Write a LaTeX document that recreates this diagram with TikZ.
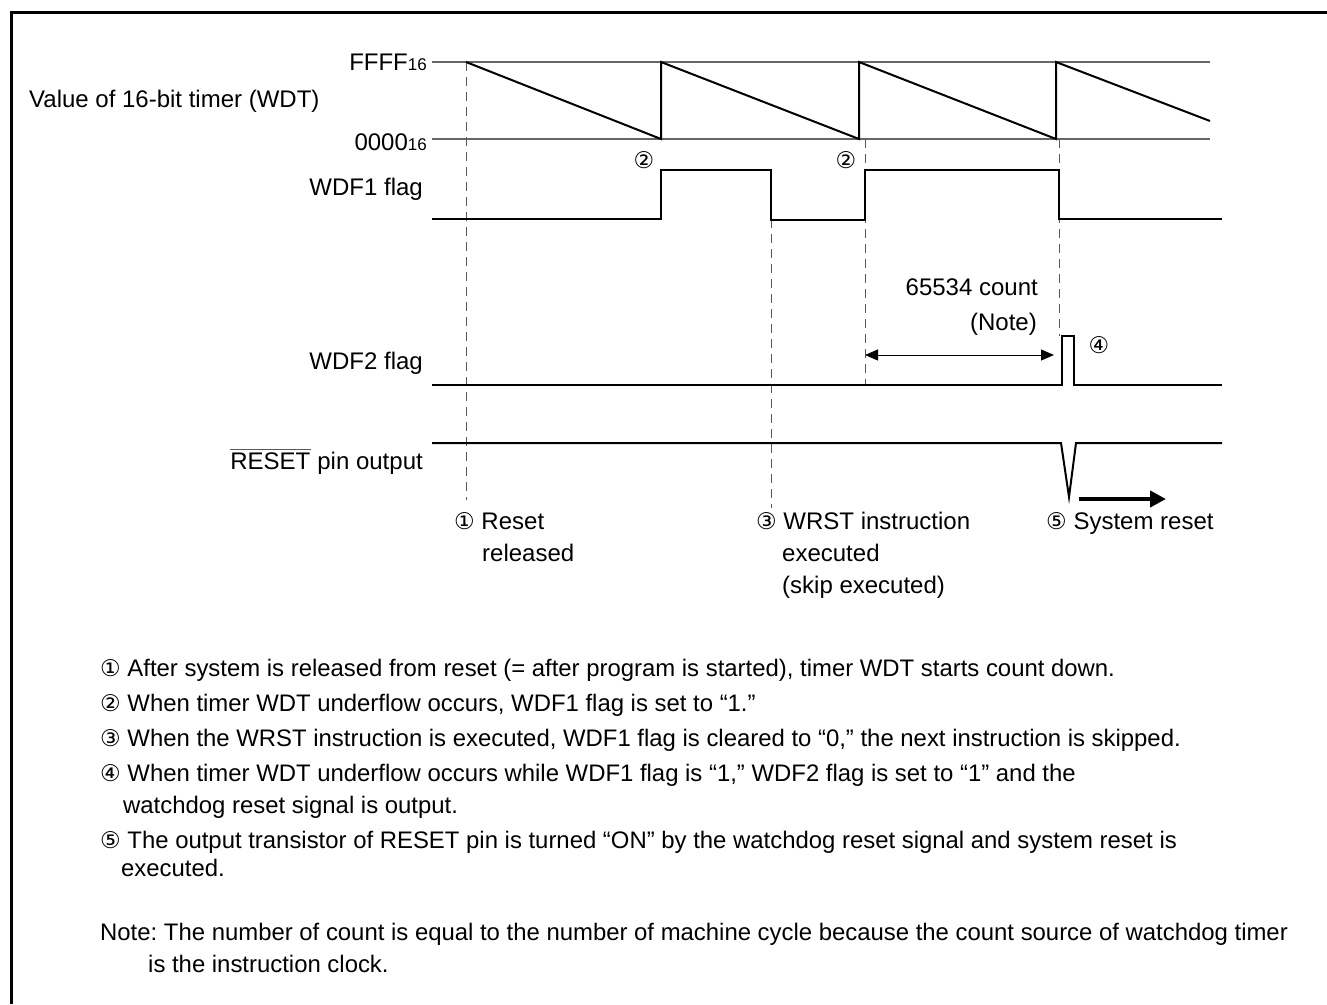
\documentclass[tikz,border=0pt]{standalone}
\usepackage{fontspec}
\setmainfont{Liberation Sans}
\newfontfamily\symf{DejaVu Sans}
\usetikzlibrary{arrows.meta}
\newcommand{\cn}[1]{{\symf\fontsize{23}{26}\selectfont #1}}
\frenchspacing
\begin{document}
\begin{tikzpicture}[x=1pt,y=-1pt,
  lbl/.style={inner sep=0pt,font=\fontsize{24}{28}\selectfont},
  note/.style={inner sep=0pt,anchor=base west,font=\fontsize{23.9}{28}\selectfont},
  wave/.style={line width=2pt,line join=miter},
  guide/.style={gray!80!black,line width=1.2pt},
  vdash/.style={gray!70!black,line width=1pt,dash pattern=on 9pt off 6pt},
  frame/.style={line width=3pt}]
\useasboundingbox (0,0) rectangle (1327,1004);
\fill[white] (0,0) rectangle (1327,1004);
\draw[frame] (11,1004) -- (11,12) -- (1327,12);

% guide lines
\draw[guide] (432,62) -- (1210,62);
\draw[guide] (432,139) -- (1210,139);
\node[lbl,anchor=east] (ffff) at (427,62) {FFFF{\fontsize{17}{20}\selectfont 16}};
\node[lbl,anchor=east] (zero) at (427,142) {0000{\fontsize{17}{20}\selectfont 16}};
\node[lbl,anchor=west] (val) at (29,101) {Value of 16-bit timer (WDT)};

% dashed lines
\draw[vdash] (466,62) -- (466,500);
\draw[vdash] (771,219) -- (771,508);
\draw[vdash] (865,139) -- (865,386);
\draw[vdash] (1059,139) -- (1059,336);

% sawtooth
\draw[wave] (466,62) -- (661,139) -- (661,62) -- (859,139) -- (859,62) -- (1056,139) -- (1056,62) -- (1210,121);

% WDF1
\node[lbl,anchor=base east] (wdf1) at (423,195) {WDF1 flag};
\draw[wave] (432,219) -- (661,219) -- (661,170) -- (771,170) -- (771,220) -- (865,220) -- (865,170) -- (1059,170) -- (1059,219) -- (1222,219);
\node[inner sep=0pt] (c2a) at (644,160) {\cn{②}};
\node[inner sep=0pt] (c2b) at (846,160) {\cn{②}};

% count annotation
\node[lbl,anchor=base east] (cnt) at (1038,295) {65534 count};
\node[lbl,anchor=base east] (nt) at (1037,330) {(Note)};
\coordinate (aL) at (865,355);
\coordinate (aR) at (1054,355);
\draw[line width=1pt,{Triangle[length=13pt,width=11pt]}-{Triangle[length=13pt,width=11pt]}] (aL) -- (aR);

% WDF2
\node[lbl,anchor=base east] (wdf2) at (423,369) {WDF2 flag};
\draw[wave] (432,385) -- (1062,385) -- (1062,336) -- (1074,336) -- (1074,385) -- (1222,385);
\node[inner sep=0pt] (c4) at (1099,345) {\cn{④}};

% RESET
\node[lbl,anchor=base east] (rst) at (423,469) {\ pin output};
\node[lbl,anchor=base east] (rstw) at (rst.base west) {RESET};
\draw[gray!70!black,line width=1pt] ([yshift=3pt]rstw.north west) -- ([yshift=3pt]rstw.north east);
\draw[wave] (432,443) -- (1061,443) -- (1069,497) -- (1076,443) -- (1222,443);
\coordinate (sL) at (1079,499);
\coordinate (sR) at (1166,499);
\draw[line width=4pt,-{Triangle[length=16pt,width=16pt]}] (sL) -- (sR);

% event labels
\node[lbl,anchor=base west] (e1) at (454,529) {\cn{①} Reset};
\node[lbl,anchor=base west] (e1b) at (482,561) {released};
\node[lbl,anchor=base west] (e3) at (756,529) {\cn{③} WRST instruction};
\node[lbl,anchor=base west] (e3b) at (782,561) {executed};
\node[lbl,anchor=base west] (e3c) at (782,593) {(skip executed)};
\node[lbl,anchor=base west] (e5) at (1046,529) {\cn{⑤} System reset};

% notes
\node[note] (n1) at (100,676) {\cn{①} After system is released from reset (= after program is started), timer WDT starts count down.};
\node[note] (n2) at (100,711) {\cn{②} When timer WDT underflow occurs, WDF1 flag is set to “1.”};
\node[note] (n3) at (100,746) {\cn{③} When the WRST instruction is executed, WDF1 flag is cleared to “0,” the next instruction is skipped.};
\node[note] (n4) at (100,781) {\cn{④} When timer WDT underflow occurs while WDF1 flag is “1,” WDF2 flag is set to “1” and the};
\node[note] (n4b) at (123,813) {watchdog reset signal is output.};
\node[note] (n5) at (100,848) {\cn{⑤} The output transistor of RESET pin is turned “ON” by the watchdog reset signal and system reset is};
\node[note] (n5b) at (121,876) {executed.};
\node[note] (n6) at (100,940) {Note: The number of count is equal to the number of machine cycle because the count source of watchdog timer};
\node[note] (n6b) at (148,972) {is the instruction clock.};
\end{tikzpicture}
\end{document}
